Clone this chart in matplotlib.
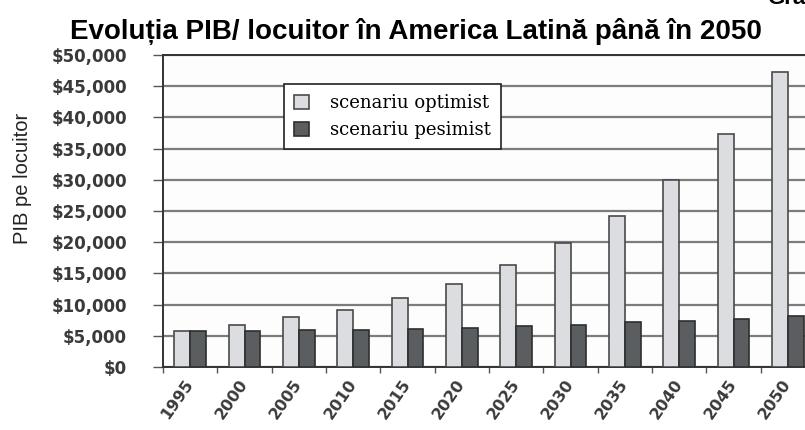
import numpy as np
import matplotlib
matplotlib.use('Agg')
from matplotlib import pyplot as plt
from matplotlib import transforms
from matplotlib.ticker import FuncFormatter, FixedLocator

# date
ani = ['1995', '2000', '2005', '2010', '2015', '2020', '2025', '2030', '2035', '2040', '2045', '2050']
optimist = [5800, 6800, 8000, 9200, 11000, 13300, 16300, 19800, 24200, 30000, 37400, 47200]
pesimist = [5800, 5800, 5900, 5900, 6100, 6200, 6600, 6800, 7200, 7300, 7700, 8100]

plt.rcParams['font.family'] = ['Liberation Sans', 'DejaVu Sans']

fig = plt.figure(figsize=(8.05, 4.30), dpi=100)
ax = fig.add_axes([163 / 805, 63 / 430, 652 / 805, 312 / 430])
ax.set_facecolor('#fdfdfd')

x = np.arange(len(ani))
w = 0.29
ax.bar(x - w / 2, optimist, w, color='#dcdde0', edgecolor='#4a4a4a', linewidth=1.2,
       label='scenariu optimist', zorder=3)
ax.bar(x + w / 2, pesimist, w, color='#5b5e61', edgecolor='#2e2e2e', linewidth=1.2,
       label='scenariu pesimist', zorder=3)

ax.set_xlim(-0.5, len(ani) - 0.5)
ax.set_ylim(0, 50000)
ax.set_yticks(np.arange(0, 50001, 5000))
ax.yaxis.set_major_formatter(FuncFormatter(lambda v, p: '${:,.0f}'.format(v)))
ax.grid(axis='y', color='#7c7c7c', linewidth=1.6, zorder=0)

# semne la limitele categoriilor, etichete in centru
ax.xaxis.set_major_locator(FixedLocator(x - 0.5))
ax.xaxis.set_major_formatter(FuncFormatter(lambda v, p: ''))
ax.xaxis.set_minor_locator(FixedLocator(x))
ax.set_xticklabels(ani, minor=True, rotation=55, ha='right', va='center',
                   rotation_mode='anchor', fontfamily='DejaVu Sans', fontweight='bold',
                   fontsize=11.5, color='#3a3a3a')
shift = transforms.ScaledTranslation(-8 / 100, 0, fig.dpi_scale_trans)
for lab in ax.get_xticklabels(minor=True):
    lab.set_transform(lab.get_transform() + shift)
ax.tick_params(axis='x', which='minor', length=0, pad=10)
ax.tick_params(axis='x', which='major', length=4, width=1, color='#555555')
ax.tick_params(axis='y', length=7, width=1, color='#555555', pad=19)
for lab in ax.get_yticklabels():
    lab.set_fontfamily('DejaVu Sans')
    lab.set_fontweight('bold')
    lab.set_fontsize(12)
    lab.set_color('#3a3a3a')

for s in ['top', 'left', 'bottom', 'right']:
    ax.spines[s].set_color('#333333')
    ax.spines[s].set_linewidth(1.4)

ax.set_ylabel('PIB pe locuitor', fontsize=14.5, color='#222222')
ax.yaxis.set_label_coords(-0.201, 0.606)

leg = ax.legend(loc='upper left', bbox_to_anchor=(0.186, 0.907), borderaxespad=0,
                frameon=True, fancybox=False, edgecolor='#222222', framealpha=1,
                handlelength=0.8, handleheight=0.8, handletextpad=1.2,
                labelspacing=0.5, borderpad=0.55,
                prop={'family': 'DejaVu Serif', 'size': 13})
leg.get_frame().set_linewidth(1.2)

fig.text(0.517, 1 - 39 / 430, 'Evoluția PIB/ locuitor în America Latină până în 2050',
         ha='center', va='baseline', fontsize=20, fontweight='bold')
fig.text(767 / 805, 1 - 4 / 430, 'Grafic', ha='left', va='baseline', fontsize=16, fontweight='bold')

plt.savefig('out.png', dpi=100)
